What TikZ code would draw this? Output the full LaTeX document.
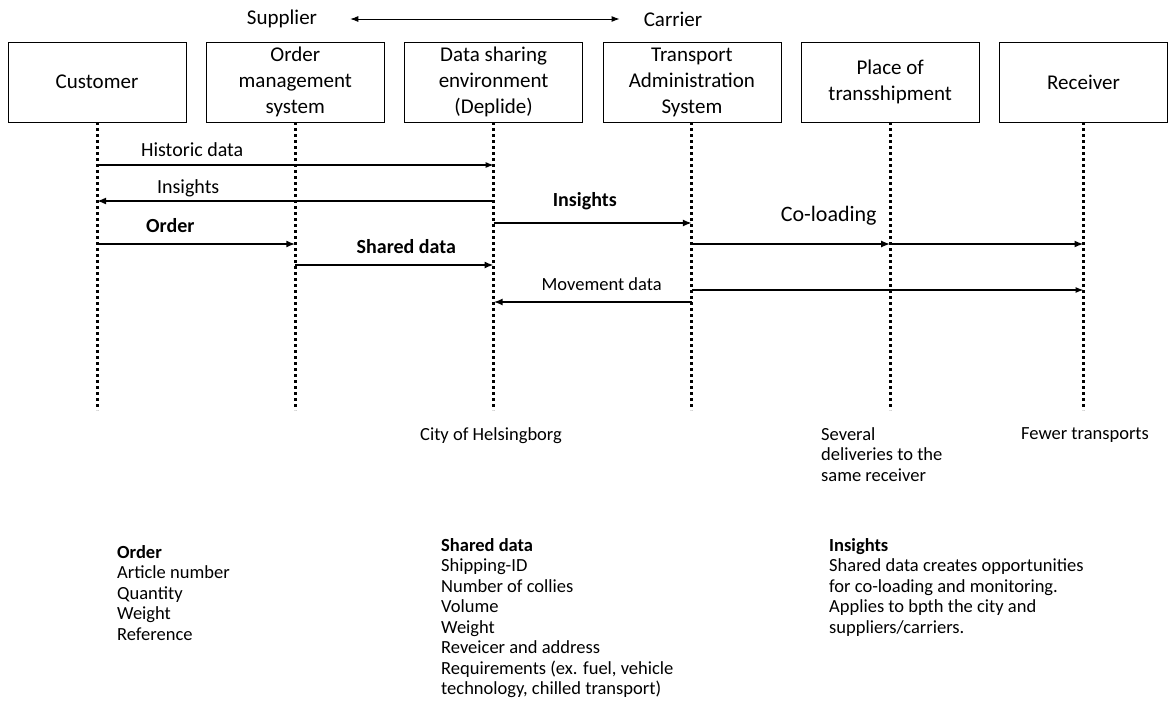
\documentclass[tikz,border=0pt]{standalone}
\usepackage{fontspec}
\setmainfont{Carlito}
\usetikzlibrary{positioning}
\usetikzlibrary{arrows.meta}

\begin{document}
\begin{tikzpicture}[
  x=1pt, y=-1pt,
  node distance=19.5pt,
  actor/.style={draw,line width=0.8pt,minimum width=178pt,minimum height=80pt,align=center,inner sep=0pt,font=\fontsize{21}{26}\selectfont},
  lifeline/.style={line width=3pt,dash pattern=on 3pt off 3pt},
  msg/.style={line width=1.1pt,-{Latex[length=8pt,width=6pt]}},
  bigmsg/.style={line width=2pt,-{Latex[length=9pt,width=7pt]}},
  lbl/.style={inner sep=0pt,font=\fontsize{20}{24}\selectfont},
  note/.style={inner sep=0pt,align=left,anchor=north west,font=\fontsize{18.5}{20.5}\selectfont}
]
\useasboundingbox (0,0) rectangle (1168,705);

% roles
\node[lbl,font=\fontsize{21}{24}\selectfont] (sup) at (282,19) {Supplier};
\node[lbl,font=\fontsize{21}{24}\selectfont] (car) at (673,19) {Carrier};
\draw[line width=0.9pt,{Latex[length=8pt,width=6pt]}-{Latex[length=8pt,width=6pt]},shorten <=33pt,shorten >=24pt] (sup.east) -- (car.west);

% actors
\node[actor] (cust) at (97,82) {Customer};
\node[actor,right=of cust] (oms) {Order\\management\\system};
\node[actor,right=of oms] (dse) {Data sharing\\environment\\(Deplide)};
\node[actor,right=of dse] (tas) {Transport\\Administration\\System};
\node[actor,right=of tas] (pot) {Place of\\transshipment};
\node[actor,right=of pot,minimum width=168pt] (rec) {Receiver};

\foreach \n in {cust,oms,dse,tas,pot,rec}
  \draw[lifeline] (\n.south) -- ++(0,288);

% message levels
\coordinate (hist) at (0,165);
\coordinate (ins) at (0,201);
\coordinate (insb) at (0,223);
\coordinate (ord) at (0,244);
\coordinate (shd) at (0,265);
\coordinate (movt) at (0,290);
\coordinate (mov) at (0,302);

\draw[msg] (cust |- hist) -- node[lbl,pos=0.24,yshift=15pt] {Historic data} (dse |- hist);
\draw[bigmsg] (dse |- ins) -- node[lbl,pos=0.77,yshift=13pt] {Insights} (cust |- ins);
\draw[bigmsg] (dse |- insb) -- node[lbl,pos=0.46,yshift=22pt] {\bfseries Insights} (tas |- insb);
\draw[bigmsg] (cust |- ord) -- node[lbl,pos=0.37,yshift=18pt] {\bfseries Order} (oms |- ord);
\draw[bigmsg] (oms |- shd) -- node[lbl,pos=0.56,yshift=18pt] {\bfseries Shared data} (dse |- shd);
\draw[bigmsg] (tas |- ord) -- node[lbl,pos=0.69,yshift=28pt,font=\fontsize{22}{26}\selectfont] {Co-loading} (pot |- ord);
\draw[bigmsg] (pot |- ord) -- (rec |- ord);
\draw[msg] (tas |- movt) -- (rec |- movt);
\draw[bigmsg] (tas |- mov) -- node[lbl,pos=0.455,yshift=18pt,font=\fontsize{18.5}{22}\selectfont] {Movement data} (dse |- mov);

% notes
\node[note] (city) at (420,427) {City of Helsingborg};
\node[note] (several) at (821,427) {Several\\deliveries to the\\same receiver};
\node[note] (fewer) at (1021,427) {Fewer transports};

\node[note] (orddesc) at (117,545) {\textbf{Order}\\Article number\\Quantity\\Weight\\Reference};
\node[note] (shddesc) at (441,538) {\textbf{Shared data}\\Shipping-ID\\Number of collies\\Volume\\Weight\\Reveicer and address\\Requirements (ex. fuel, vehicle\\technology, chilled transport)};
\node[note] (insdesc) at (829,538) {\textbf{Insights}\\Shared data creates opportunities\\for co-loading and monitoring.\\Applies to bpth the city and\\suppliers/carriers.};

\end{tikzpicture}
\end{document}
